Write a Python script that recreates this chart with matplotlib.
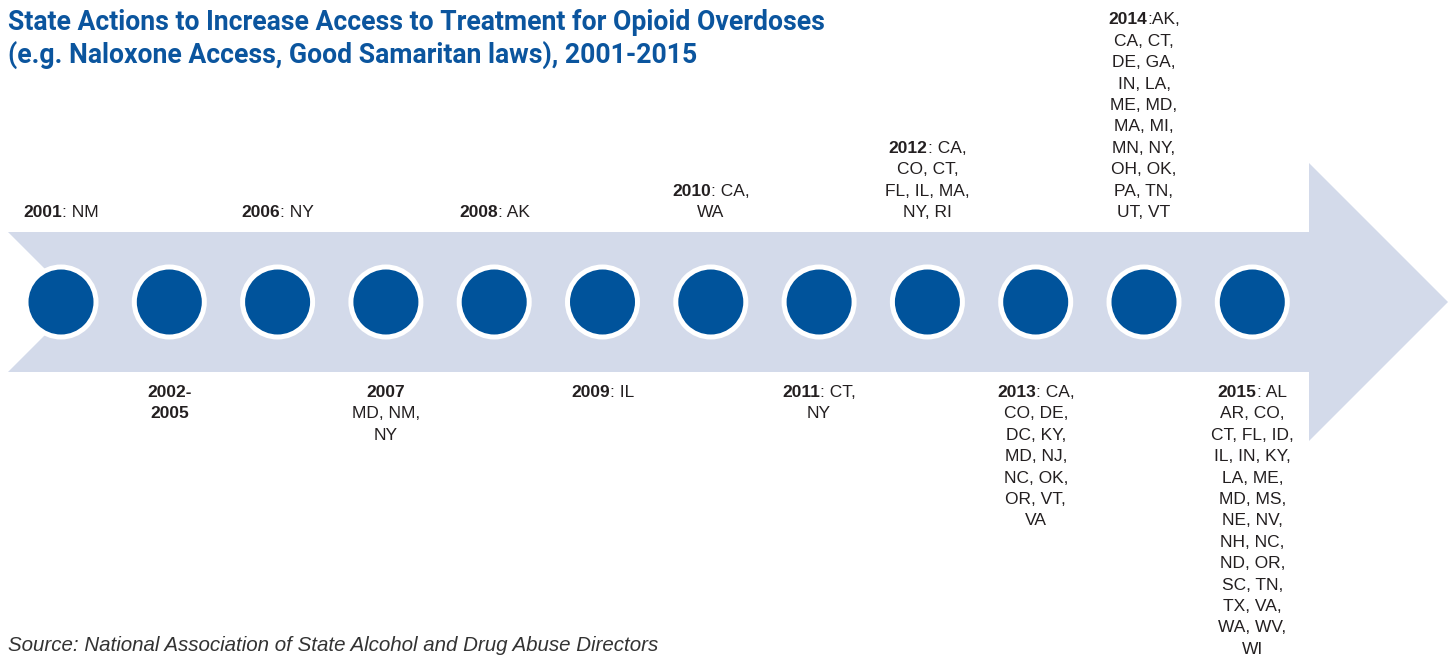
import matplotlib
matplotlib.use("Agg")
import matplotlib.pyplot as plt
from matplotlib.patches import Polygon, Circle

# timeline data
year_text = ["2001", "2002-\n2005", "2006", "2007", "2008", "2009",
             "2010", "2011", "2012", "2013", "2014", "2015"]
separators = [": ", "", ": ", "", ": ", ": ", ": ", ": ", ": ", ": ", ":", ": "]
state_text = [
    "NM",
    "",
    "NY",
    "\nMD, NM,\nNY",
    "AK",
    "IL",
    "CA,\nWA",
    "CT,\nNY",
    "CA,\nCO, CT,\nFL, IL, MA,\nNY, RI",
    "CA,\nCO, DE,\nDC, KY,\nMD, NJ,\nNC, OK,\nOR, VT,\nVA",
    "AK,\nCA, CT,\nDE, GA,\nIN, LA,\nME, MD,\nMA, MI,\nMN, NY,\nOH, OK,\nPA, TN,\nUT, VT",
    "AL\nAR, CO,\nCT, FL, ID,\nIL, IN, KY,\nLA, ME,\nMD, MS,\nNE, NV,\nNH, NC,\nND, OR,\nSC, TN,\nTX, VA,\nWA, WV,\nWI",
]
title_lines = ["State Actions to Increase Access to Treatment for Opioid Overdoses",
               "(e.g. Naloxone Access, Good Samaritan laws), 2001-2015"]
source = "Source: National Association of State Alcohol and Drug Abuse Directors"

# styles
W, H = 1453, 656
arrow_col = "#d3daea"
dot_col = "#00539b"
title_col = "#0b559e"
text_col = "#231f20"
body_font = dict(family="Liberation Sans", size=12.5, color=text_col)
year_font = dict(family="Liberation Sans", weight="bold", size=12.5, color=text_col)

fig = plt.figure(figsize=(W / 100, H / 100), dpi=100)
ax = fig.add_axes([0, 0, 1, 1])
ax.set_xlim(0, W)
ax.set_ylim(H, 0)
ax.axis("off")
renderer = fig.canvas.get_renderer()

# arrow shape
mid = 302
x0, neck, tip = 8, 1309, 1448
body_h, head_h = 70, 139
notch = body_h
arrow = Polygon([(x0, mid - body_h), (neck, mid - body_h), (neck, mid - head_h),
                 (tip, mid), (neck, mid + head_h), (neck, mid + body_h),
                 (x0, mid + body_h), (x0 + notch, mid)],
                closed=True, facecolor=arrow_col, edgecolor="none", zorder=1)
ax.add_patch(arrow)

# dots
first_x, step = 61, 108.3
centers = [first_x + i * step for i in range(len(year_text))]
for cx in centers:
    ax.add_patch(Circle((cx, mid), 37.5, facecolor="white", edgecolor="none", zorder=2))
    ax.add_patch(Circle((cx, mid), 32.5, facecolor=dot_col, edgecolor="none", zorder=3))


def seg_width(s, font):
    t = ax.text(0, 0, "|" + s + "|", **font)
    w1 = t.get_window_extent(renderer).width
    t.remove()
    t = ax.text(0, 0, "||", **font)
    w2 = t.get_window_extent(renderer).width
    t.remove()
    return w1 - w2


def draw_line(cx, y, segs):
    widths = [seg_width(s, f) for s, f in segs]
    x = cx - sum(widths) / 2
    for (s, f), w in zip(segs, widths):
        if s:
            ax.text(x, y, s, ha="left", va="baseline", **f)
        x += w


def fit_size(s, font, width):
    # font size that makes s span the given pixel width
    return font["size"] * width / seg_width(s, font)


# labels above (even) and below (odd) the arrow
top_base, bottom_base, gap = 217, 397, 21.4
for i, cx in enumerate(centers):
    full = year_text[i] + separators[i] + state_text[i]
    nbold = len(year_text[i])
    lines = []
    pos = 0
    for ln in full.split("\n"):
        b = max(0, min(len(ln), nbold - pos))
        lines.append([(ln[:b], year_font), (ln[b:], body_font)])
        pos += len(ln) + 1
    if i % 2 == 0:
        ys = [top_base - gap * (len(lines) - 1 - k) for k in range(len(lines))]
    else:
        ys = [bottom_base + gap * k for k in range(len(lines))]
    for y, segs in zip(ys, lines):
        draw_line(cx, y, segs)

# title and source
title_font = dict(family="Roboto", weight="bold", size=18, color=title_col)
title_font["size"] = fit_size(title_lines[0], title_font, 820)
for k, ln in enumerate(title_lines):
    ax.text(8, 30 + 33 * k, ln, ha="left", va="baseline", **title_font)
source_font = dict(family="Liberation Sans", style="italic", size=13, color="#333333")
source_font["size"] = fit_size(source, source_font, 649)
ax.text(8, 651, source, ha="left", va="baseline", **source_font)

fig.savefig("out.png", dpi=100)
